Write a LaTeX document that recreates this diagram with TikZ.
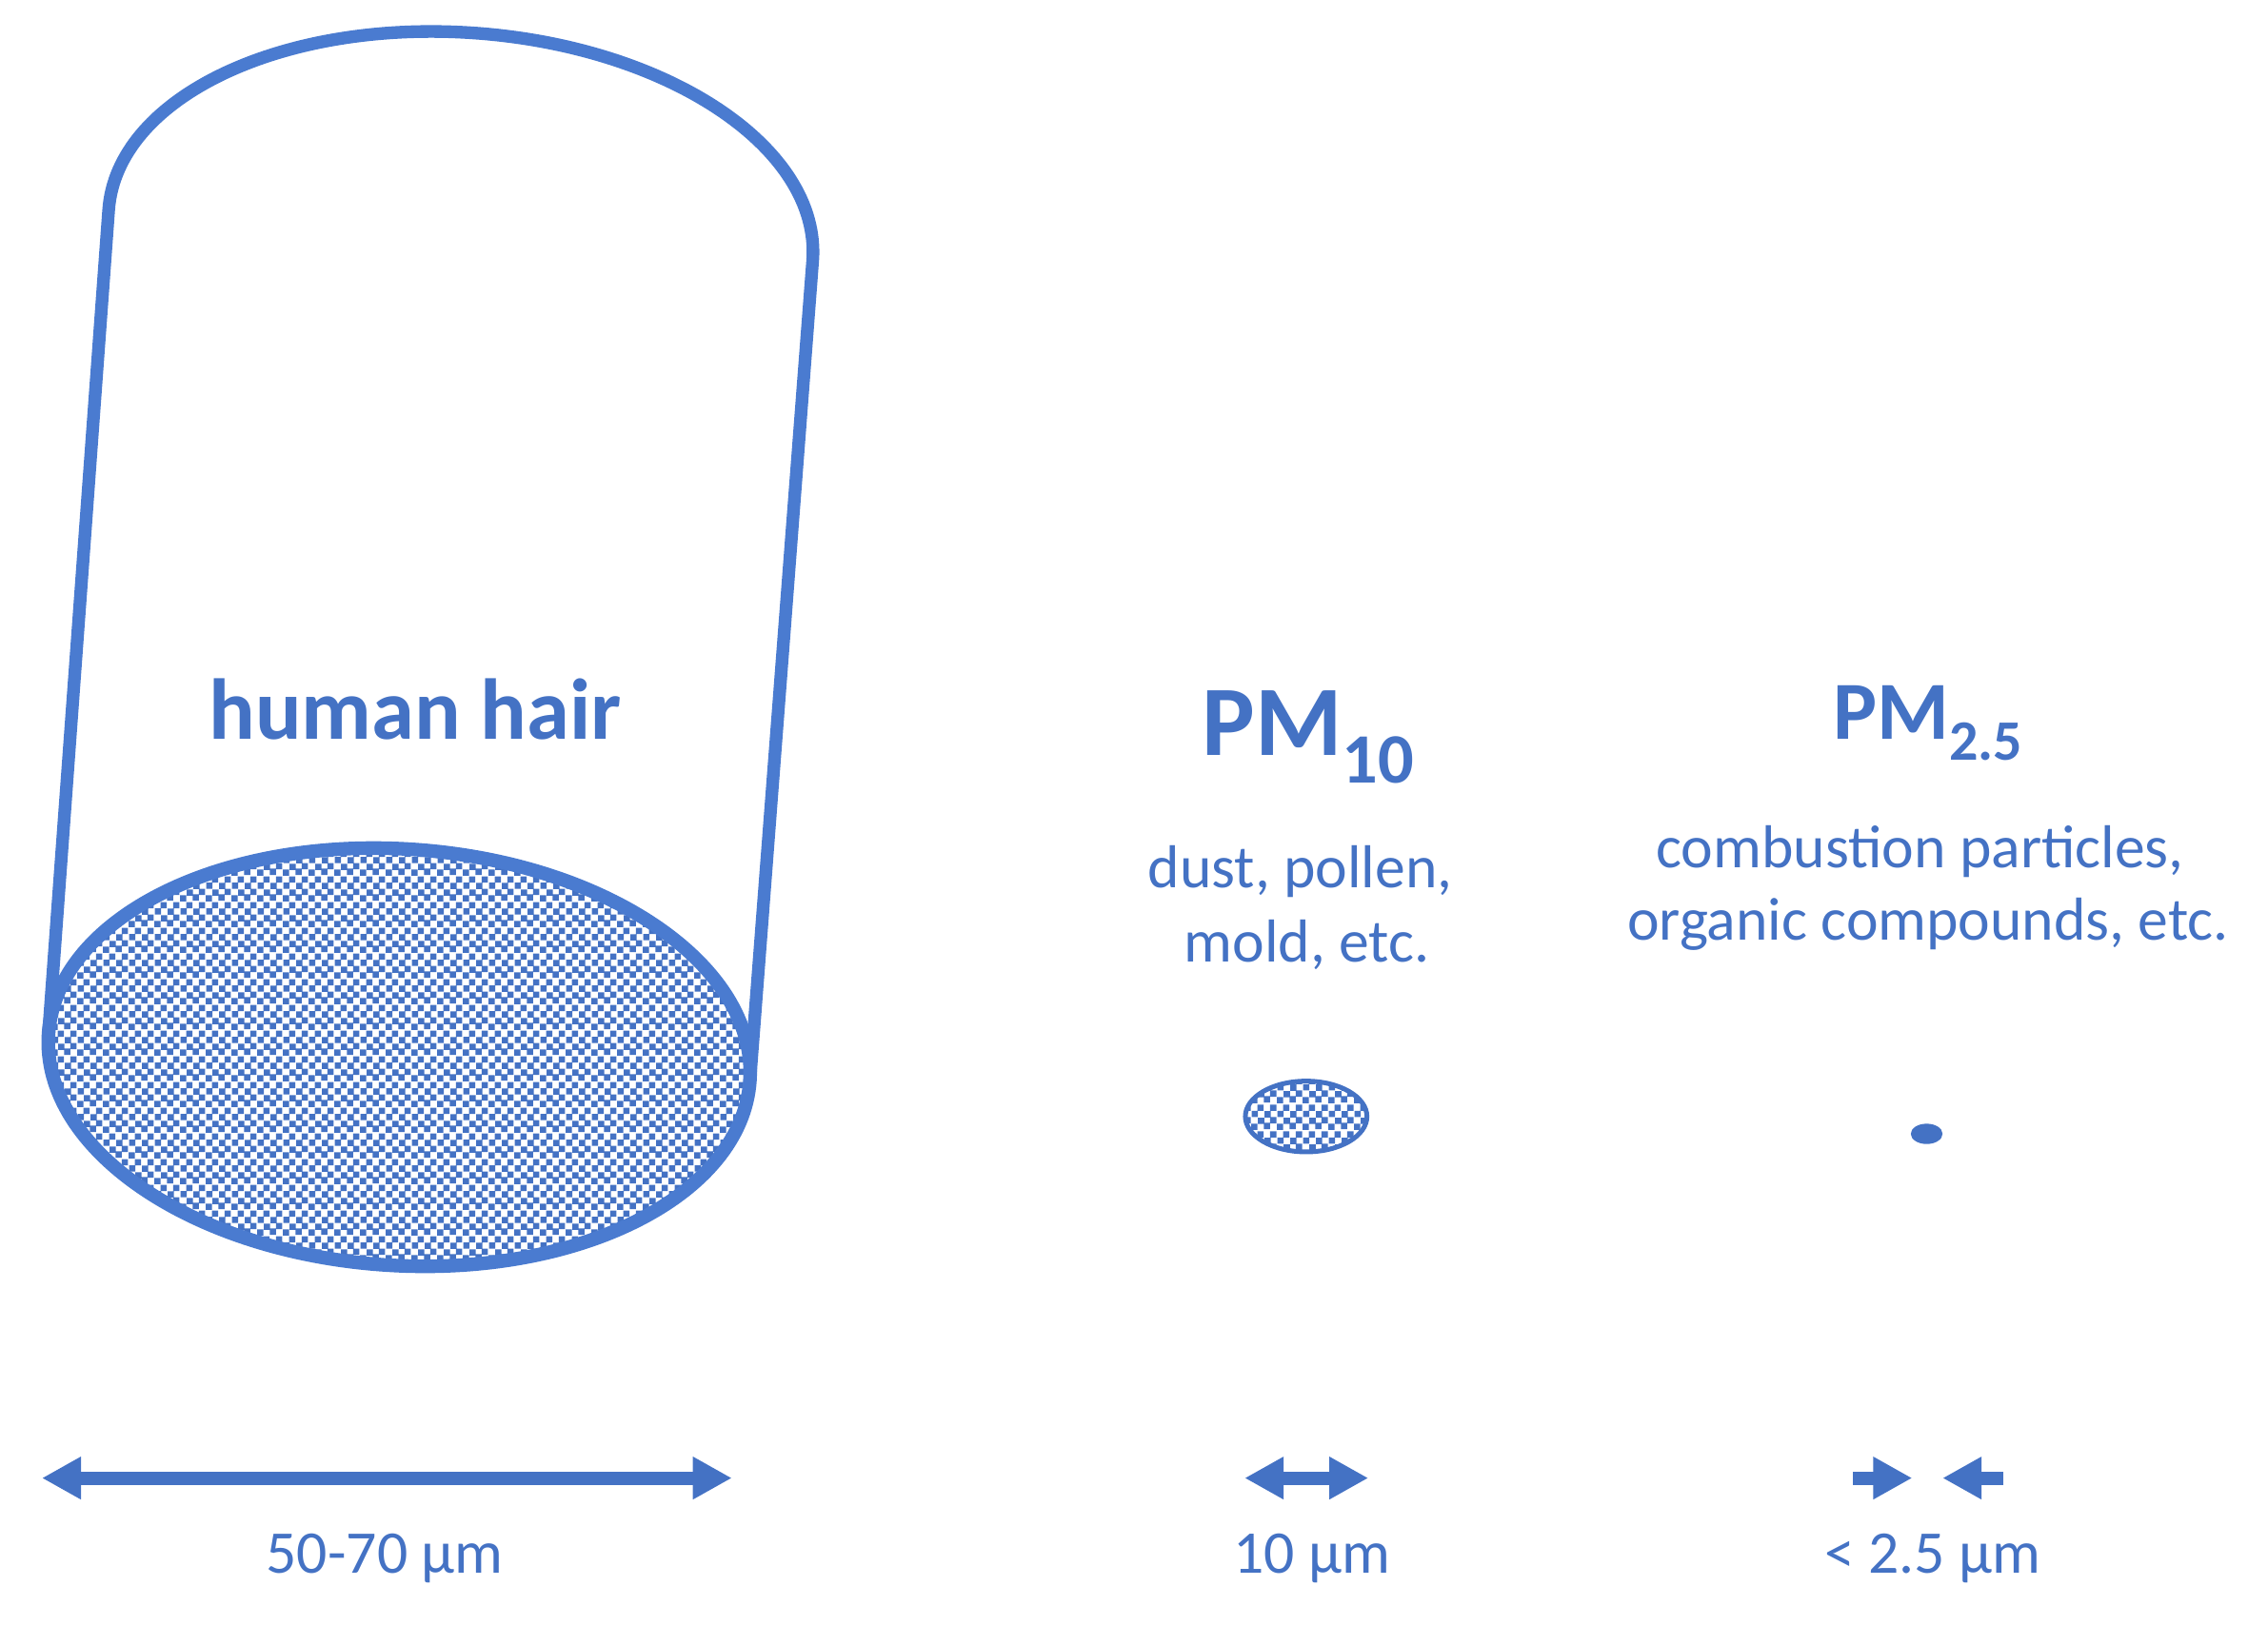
\documentclass[tikz,border=0pt]{standalone}
\usepackage{fontspec}
\setmainfont{Carlito}
\usetikzlibrary{arrows.meta,patterns,shapes.geometric}
\definecolor{blu}{HTML}{4472C4}
\definecolor{cyl}{HTML}{4A7BD0}
\newcommand\myfs[1]{\fontsize{#1}{#1}\selectfont}
\pgfdeclarepatternformonly{confetti}{\pgfqpoint{0pt}{0pt}}{\pgfqpoint{8.22pt}{8.22pt}}{\pgfqpoint{8.22pt}{8.22pt}}{%
  \pgfpathrectangle{\pgfqpoint{0.0pt}{0.0pt}}{\pgfqpoint{2pt}{2pt}}%
  \pgfpathrectangle{\pgfqpoint{2.2pt}{1.9pt}}{\pgfqpoint{2pt}{2pt}}%
  \pgfpathrectangle{\pgfqpoint{4.1pt}{0.3pt}}{\pgfqpoint{2pt}{2pt}}%
  \pgfpathrectangle{\pgfqpoint{6.1pt}{2.1pt}}{\pgfqpoint{2pt}{2pt}}%
  \pgfpathrectangle{\pgfqpoint{0.2pt}{4.1pt}}{\pgfqpoint{2pt}{2pt}}%
  \pgfpathrectangle{\pgfqpoint{2.0pt}{6.1pt}}{\pgfqpoint{2pt}{2pt}}%
  \pgfpathrectangle{\pgfqpoint{4.3pt}{4.0pt}}{\pgfqpoint{2pt}{2pt}}%
  \pgfpathrectangle{\pgfqpoint{6.1pt}{6.1pt}}{\pgfqpoint{2pt}{2pt}}%
  \pgfusepath{fill}%
}
\tikzset{
  txt/.style={text=blu, inner sep=0pt, anchor=base},
  desc/.style={txt, font=\myfs{19.1pt}},
  cylline/.style={draw=cyl, line width=4pt, line join=round},
  dimarrow/.style={draw=blu, line width=4.2pt,
    {Triangle[length=12.3pt,width=12.6pt]}-{Triangle[length=12.3pt,width=12.6pt]}},
  onearrow/.style={draw=blu, line width=4.2pt, -{Triangle[length=12.3pt,width=12.6pt]}},
  dotted pattern/.style={pattern=confetti, pattern color=blu}
}
\begin{document}
\begin{tikzpicture}[x=0.4557pt,y=-0.4557pt]
\useasboundingbox (0,0) rectangle (1568,1124);
% cylinder (human hair)
\coordinate (bl) at (33.5,715);
\coordinate (br) at (518.5,747);
\begin{scope}[shift={(318.5,162.5)}, rotate=-4.1]
  \coordinate (tl) at (-244,0);
  \coordinate (tr) at (244,0);
\end{scope}
\draw[cylline] (bl) -- (tl)
  [rotate around={-4.1:(318.5,162.5)}]
  arc[start angle=180, end angle=360, x radius=244, y radius=140] -- (br);
\begin{scope}[shift={(276,731)}, rotate=-3.8]
  \fill[white] (0,0) ellipse [x radius=243, y radius=144];
  \fill[dotted pattern] (0,0) ellipse [x radius=243, y radius=144];
  \draw[cylline, line width=4.3pt] (0,0) ellipse [x radius=243, y radius=144];
\end{scope}
\node[txt, font=\bfseries\myfs{27.2pt}] (hair) at (287,511) {human hair};
% PM10
\node[txt] (pm10) at (904.5,522) {\bfseries\myfs{31.4pt}PM\raisebox{-8.7pt}{\myfs{22.3pt}10}};
\node[desc] (pm10a) at (899,614) {dust, pollen,};
\node[desc] (pm10b) at (903.5,665) {mold, etc.};
\node[ellipse, draw=blu, line width=1.5pt, dotted pattern, minimum width=38.3pt,
      minimum height=22.3pt, inner sep=0pt] (p10) at (903,772) {};
% PM2.5
\node[txt] (pm25) at (1333,511) {\bfseries\myfs{26pt}PM\raisebox{-6.8pt}{\myfs{18pt}2.5}};
\node[desc] (pm25a) at (1327.5,600) {combustion particles,};
\node[desc] (pm25b) at (1333,650) {organic compounds, etc.};
\node[ellipse, fill=blu, minimum width=10pt, minimum height=6.4pt, inner sep=0pt] (p25) at (1332,784) {};
% dimension arrows
\coordinate (h1) at (29,1022);
\coordinate (h2) at (506,1022);
\coordinate (t1) at (860.5,1022);
\coordinate (t2) at (946,1022);
\coordinate (s1) at (1281,1022);
\coordinate (s1e) at (1322,1022);
\coordinate (s2) at (1385,1022);
\coordinate (s2e) at (1343,1022);
\draw[dimarrow] (h1) -- (h2);
\draw[dimarrow] (t1) -- (t2);
\draw[onearrow] (s1) -- (s1e);
\draw[onearrow] (s2) -- (s2e);
\node[desc] (l1) at (266,1088) {50-70 µm};
\node[desc] (l2) at (907,1088) {10 µm};
\node[desc] (l3) at (1336,1088) {< 2.5 µm};
\end{tikzpicture}
\end{document}
